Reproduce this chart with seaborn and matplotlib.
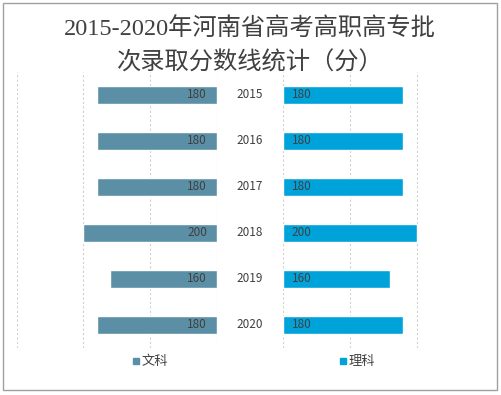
import matplotlib
matplotlib.use("Agg")
import matplotlib.pyplot as plt
import seaborn as sns
import pandas as pd
from matplotlib.patches import Rectangle

years = ["2015", "2016", "2017", "2018", "2019", "2020"]
wenke = [180, 180, 180, 200, 160, 180]
like = [180, 180, 180, 200, 160, 180]
title = "2015-2020年河南省高考高职高专批\n次录取分数线统计（分）"

sns.set_theme(style="white")
plt.rcParams['font.family'] = ['Noto Sans CJK SC', 'DejaVu Sans']

c_left = "#5B8FA6"
c_right = "#00A2DA"
grid_c = "#D0D0D0"
txt_c = "#404040"

df = pd.DataFrame({"year": years, "文科": wenke, "理科": like})

W, H = 502, 395
fig = plt.figure(figsize=(W / 100, H / 100), dpi=100)

# outer frame
fig.patches.append(Rectangle((3 / W, 5 / H), 494 / W, 387 / H, transform=fig.transFigure,
                             fill=False, edgecolor="#A0A0A0", linewidth=1))

bottom, top = 47 / H, (395 - 72) / H
axl = fig.add_axes([16.7 / W, bottom, 200 / W, top - bottom])
axr = fig.add_axes([283.3 / W, bottom, 200 / W, top - bottom])

sns.barplot(data=df, x="文科", y="year", orient="h", color=c_left, width=0.39,
            saturation=1, ax=axl)
sns.barplot(data=df, x="理科", y="year", orient="h", color=c_right, width=0.39,
            saturation=1, ax=axr)

for ax in (axl, axr):
    ax.set_xlim(0, 300)
    ax.set_ylim(5.5, -0.5)
    ax.set_xticks([0, 100, 200, 300])
    ax.set_yticks([])
    ax.set_xticklabels([])
    ax.set_xlabel("")
    ax.set_ylabel("")
    ax.tick_params(length=0)
    for s in ax.spines.values():
        s.set_visible(False)
    ax.grid(axis="x", color=grid_c, linestyle=(0, (2, 2)), linewidth=0.8)
    ax.set_axisbelow(True)
axl.invert_xaxis()

for i, (a, b) in enumerate(zip(wenke, like)):
    axl.annotate(str(a), (0, i), xytext=(-7, 0), textcoords="offset points",
                 ha="right", va="center", fontsize=8.5, color=txt_c)
    axr.annotate(str(b), (0, i), xytext=(6, 0), textcoords="offset points",
                 ha="left", va="center", fontsize=8.5, color=txt_c)
    axr.annotate(years[i], (0, i), xytext=(-24, 0), textcoords="offset points",
                 ha="center", va="center", fontsize=8.5, color=txt_c)

fig.text(250 / W, 1 - 46 / H, title, ha="center", va="center", fontsize=17.5,
         color="#404040", linespacing=1.6,
         family=['Liberation Serif', 'Noto Sans CJK SC'])

# legend
ly = 1 - 361 / H
for x0, lab, c in [(133, "文科", c_left), (340, "理科", c_right)]:
    fig.patches.append(Rectangle((x0 / W, ly - 3 / H), 6 / W, 6 / H,
                                 transform=fig.transFigure, color=c))
    fig.text((x0 + 9) / W, ly, lab, ha="left", va="center", fontsize=9.5, color=txt_c)

fig.savefig("out.png", dpi=100)
